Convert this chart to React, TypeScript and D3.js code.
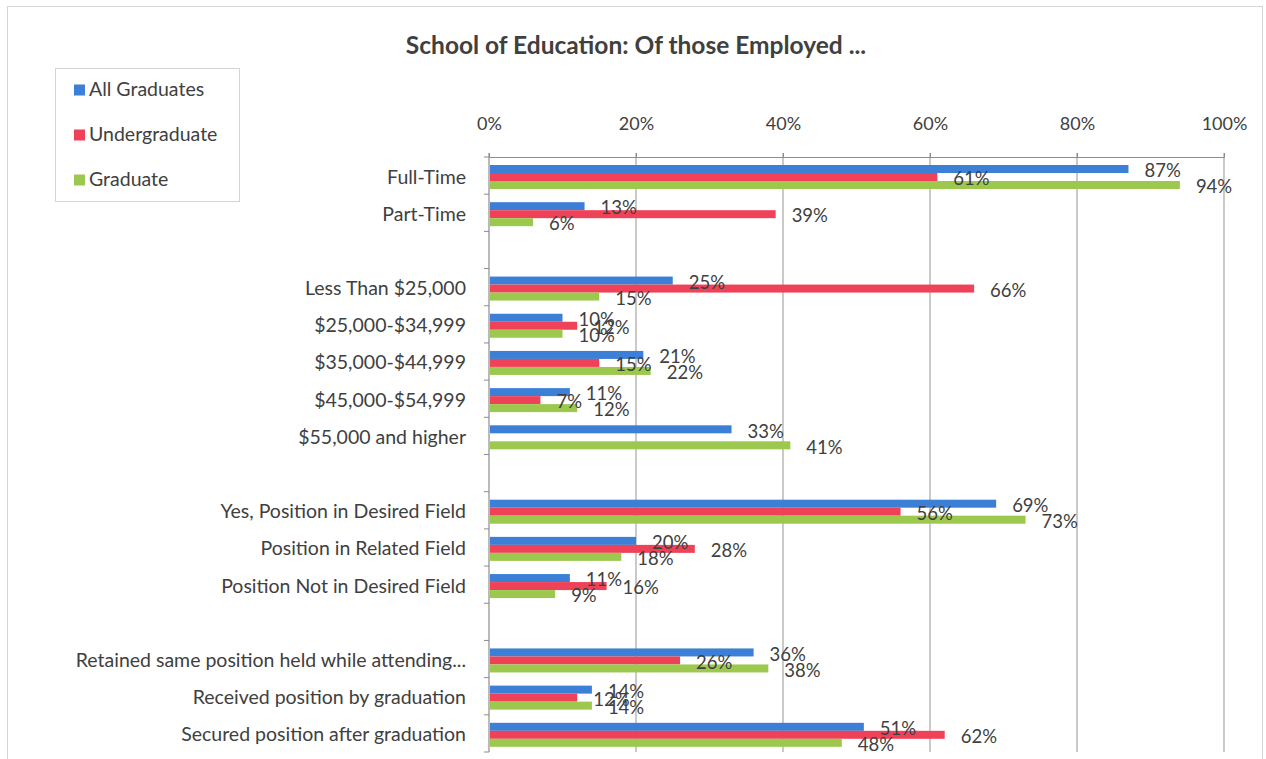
import React, { useEffect, useRef } from "react";
import * as d3 from "d3";

const categories = [
  "Full-Time",
  "Part-Time",
  "",
  "Less Than $25,000",
  "$25,000-$34,999",
  "$35,000-$44,999",
  "$45,000-$54,999",
  "$55,000 and higher",
  " ",
  "Yes, Position in Desired Field",
  "Position in Related Field",
  "Position Not in Desired Field",
  "  ",
  "Retained same position held while attending...",
  "Received position by graduation",
  "Secured position after graduation",
];

const allGraduates = [87, 13, null, 25, 10, 21, 11, 33, null, 69, 20, 11, null, 36, 14, 51];
const undergraduate = [61, 39, null, 66, 12, 15, 7, null, null, 56, 28, 16, null, 26, 12, 62];
const graduate = [94, 6, null, 15, 10, 22, 12, 41, null, 73, 18, 9, null, 38, 14, 48];

const seriesNames = ["All Graduates", "Undergraduate", "Graduate"];
const seriesValues = [allGraduates, undergraduate, graduate];
const xTicks = [0, 20, 40, 60, 80, 100];

const colors = ["#3b7fd6", "#ef4258", "#9cc84e"];
const FONT = "Lato, 'Open Sans', sans-serif";
const TEXT = "#404040";

const W = 1266;
const H = 759;

export default function App() {
  const ref = useRef<SVGSVGElement>(null);

  useEffect(() => {
    const svg = d3.select(ref.current);
    svg.selectAll("*").remove();

    const left = 489, right = 1224, top = 157, bottom = 752;

    // outer chart frame
    svg.append("rect")
      .attr("x", 7.5).attr("y", 6.5)
      .attr("width", 1255).attr("height", 780)
      .attr("fill", "#fff").attr("stroke", "#d4d4d4");

    svg.append("text")
      .attr("x", 636).attr("y", 54)
      .attr("text-anchor", "middle")
      .attr("font-family", FONT).attr("font-weight", "bold")
      .attr("font-size", 24.5).attr("fill", TEXT)
      .text("School of Education: Of those Employed ...");

    const x = d3.scaleLinear().domain([0, 100]).range([left, right]);
    const y = d3.scaleBand<number>().domain(d3.range(categories.length)).range([top, bottom]);
    const inner = d3.scaleBand<number>().domain(d3.range(seriesNames.length)).range([8, 32]);

    // gridlines
    svg.append("g").selectAll("line")
      .data(xTicks.slice(1))
      .enter().append("line")
      .attr("x1", d => x(d)).attr("x2", d => x(d))
      .attr("y1", top - 4).attr("y2", bottom)
      .attr("stroke", "#a6a6a6").attr("stroke-width", 1.2);

    const xAxis = svg.append("g")
      .attr("transform", `translate(0,${top})`)
      .call(d3.axisTop(x).tickValues(xTicks).tickSize(4).tickFormat(d => `${d}%`));
    xAxis.select(".domain").attr("stroke", "#8c8c8c");
    xAxis.selectAll(".tick line").attr("stroke", "#8c8c8c");
    xAxis.selectAll(".tick text")
      .attr("y", -27)
      .attr("dy", 0)
      .attr("font-family", FONT).attr("font-size", 18).attr("fill", TEXT);

    // left axis
    const yAxisG = svg.append("g");
    yAxisG.append("line")
      .attr("x1", left).attr("x2", left).attr("y1", top - 4).attr("y2", bottom)
      .attr("stroke", "#8c8c8c").attr("stroke-width", 1.2);
    yAxisG.selectAll("line.tk")
      .data(d3.range(categories.length + 1))
      .enter().append("line").attr("class", "tk")
      .attr("x1", left - 5).attr("x2", left)
      .attr("y1", i => top + i * y.step()).attr("y2", i => top + i * y.step())
      .attr("stroke", "#8c8c8c");
    yAxisG.selectAll("text")
      .data(categories)
      .enter().append("text")
      .attr("x", 466)
      .attr("y", (_, i) => (y(i) as number) + y.bandwidth() / 2 + 3)
      .attr("dominant-baseline", "middle")
      .attr("text-anchor", "end")
      .attr("font-family", FONT).attr("font-size", 19.5).attr("fill", TEXT)
      .text(d => d.trim());

    // bars
    seriesValues.forEach((vals, s) => {
      const rows = vals.map((v, i) => ({ v, i })).filter(d => d.v !== null) as { v: number; i: number }[];
      svg.append("g").selectAll("rect")
        .data(rows)
        .enter().append("rect")
        .attr("x", left + 1)
        .attr("y", d => (y(d.i) as number) + (inner(s) as number))
        .attr("width", d => x(d.v) - left - 1)
        .attr("height", inner.bandwidth())
        .attr("fill", colors[s]);
    });

    // data labels
    seriesValues.forEach((vals, s) => {
      const rows = vals.map((v, i) => ({ v, i })).filter(d => d.v !== null) as { v: number; i: number }[];
      svg.append("g").selectAll("text")
        .data(rows)
        .enter().append("text")
        .attr("x", d => x(d.v) + 16)
        .attr("y", d => (y(d.i) as number) + (inner(s) as number) + inner.bandwidth() / 2 + 3.5)
        .attr("dominant-baseline", "middle")
        .attr("font-family", FONT).attr("font-size", 18.5).attr("fill", TEXT)
        .text(d => `${d.v}%`);
    });

    // legend
    const lg = svg.append("g");
    lg.append("rect")
      .attr("x", 55.5).attr("y", 68.5).attr("width", 184).attr("height", 133)
      .attr("fill", "#fff").attr("stroke", "#d4d4d4");
    seriesNames.forEach((name, s) => {
      const cy = 90 + s * 45;
      lg.append("rect")
        .attr("x", 74).attr("y", cy - 5.5).attr("width", 11).attr("height", 11)
        .attr("fill", colors[s]);
      lg.append("text")
        .attr("x", 89).attr("y", cy + 1)
        .attr("dominant-baseline", "middle")
        .attr("font-family", FONT).attr("font-size", 19.5).attr("fill", TEXT)
        .text(name);
    });
  }, []);

  return (
    <svg
      ref={ref}
      width={W}
      height={H}
      style={{ position: "absolute", left: 0, top: 0, background: "#fff" }}
    />
  );
}
